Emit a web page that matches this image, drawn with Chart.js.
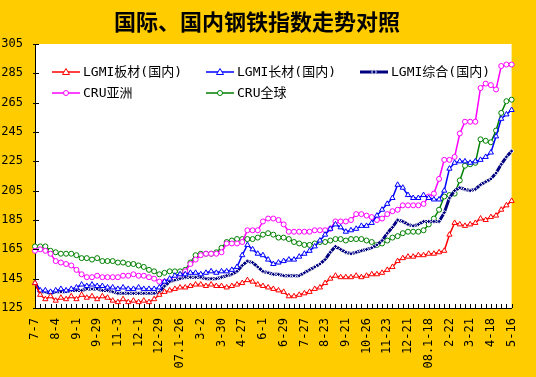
<!DOCTYPE html>
<html>
<head>
<meta charset="utf-8">
<script src="https://cdn.jsdelivr.net/npm/chart.js@4/dist/chart.umd.min.js"></script>
<style>
html, body { margin: 0; padding: 0; background: #FFCC00; }
#wrap { position: relative; width: 536px; height: 377px; }
</style>
</head>
<body>
<div id="wrap"><canvas id="steelChart" width="536" height="377"></canvas></div>
<script>
// weekly points, label shown every 4th week
const categories = [
    '7-7', '', '', '', '8-4', '', '', '', '9-1', '', '', '', '9-29', '', '', '',
    '11-3', '', '', '', '12-1', '', '', '', '12-29', '', '', '', '07.1-26', '', '', '',
    '3-2', '', '', '', '3-30', '', '', '', '4-27', '', '', '', '6-1', '', '', '',
    '6-29', '', '', '', '7-27', '', '', '', '8-23', '', '', '', '9-21', '', '', '',
    '10-26', '', '', '', '11-23', '', '', '', '12-21', '', '', '', '08.1-18', '', '', '',
    '2-22', '', '', '', '3-21', '', '', '', '4-18', '', '', '', '5-16'
];

const seriesNames = ['LGMI板材(国内)', 'LGMI长材(国内)', 'LGMI综合(国内)', 'CRU亚洲', 'CRU全球'];

const plate = [
    142, 134, 131, 133, 130, 132, 131, 133, 131, 134, 132, 133, 131, 133, 132, 130,
    129, 131, 129, 130, 129, 130, 129, 131, 134, 136, 137, 138, 139, 139, 140, 141,
    141, 140, 141, 140, 140, 139, 140, 141, 142, 144, 143, 141, 140, 139, 138, 137,
    136, 133, 133, 134, 135, 136, 138, 139, 142, 145, 147, 146, 146, 146, 147, 146,
    147, 148, 148, 149, 151, 153, 157, 159, 160, 160, 161, 161, 162, 162, 163, 164,
    175, 183, 182, 181, 182, 183, 186, 185, 187, 188, 192, 195, 198
];

const longSteel = [
    142, 137, 137, 136, 137, 138, 137, 138, 139, 141, 140, 141, 140, 140, 139, 139,
    138, 139, 138, 138, 139, 138, 138, 138, 139, 143, 145, 147, 148, 148, 149, 149,
    148, 149, 150, 149, 150, 150, 151, 153, 161, 168, 165, 162, 161, 158, 155, 156,
    157, 158, 158, 160, 162, 164, 167, 171, 175, 179, 182, 180, 177, 178, 179, 181,
    181, 183, 188, 192, 196, 200, 209, 207, 202, 200, 200, 202, 200, 199, 199, 205,
    220, 224, 225, 225, 224, 225, 226, 228, 231, 242, 254, 257, 260
];

const composite = [
    142, 136, 136, 135, 136, 136, 136, 137, 137, 137, 138, 138, 138, 137, 137, 136,
    135, 135, 135, 135, 135, 135, 135, 135, 136, 140, 143, 144, 145, 146, 146, 146,
    146, 145, 145, 145, 146, 147, 148, 150, 154, 157, 156, 153, 150, 149, 148, 148,
    147, 147, 147, 147, 149, 151, 153, 155, 158, 163, 167, 165, 163, 162, 163, 164,
    165, 166, 168, 171, 176, 180, 185, 184, 182, 181, 182, 184, 184, 184, 184, 190,
    200, 205, 207, 206, 205, 206, 209, 211, 213, 217, 223, 228, 232
];

const cruAsia = [
    164, 165, 164, 162, 157, 156, 155, 154, 151, 148, 146, 146, 147, 146, 146, 146,
    146, 147, 147, 148, 147, 147, 146, 145, 143, 143, 144, 145, 146, 150, 155, 158,
    161, 162, 162, 162, 163, 169, 169, 169, 170, 178, 178, 178, 184, 186, 186, 185,
    182, 177, 177, 177, 177, 177, 178, 178, 178, 179, 184, 184, 184, 185, 189, 189,
    188, 187, 185, 186, 189, 191, 192, 195, 195, 195, 195, 196, 201, 203, 213, 226,
    226, 228, 244, 252, 252, 252, 275, 278, 277, 274, 290, 291, 291
];

const cruGlobal = [
    167, 167, 167, 164, 163, 162, 162, 162, 161, 159, 159, 158, 159, 157, 157, 157,
    156, 156, 155, 155, 154, 153, 151, 150, 148, 149, 150, 150, 150, 151, 156, 161,
    162, 162, 162, 163, 166, 170, 171, 172, 172, 172, 172, 173, 175, 176, 175, 173,
    173, 172, 170, 169, 168, 168, 169, 170, 170, 171, 172, 172, 171, 172, 172, 172,
    171, 170, 168, 169, 171, 173, 174, 176, 177, 177, 177, 178, 182, 186, 192, 201,
    202, 203, 212, 222, 223, 224, 240, 239, 238, 246, 258, 266, 267
];

const yMin = 125;
const yMax = 305;
const yStep = 20;

const seriesColors = ['#FF0000', '#0000FF', '#000080', '#FF00FF', '#008000'];
const seriesPoints = ['triangle', 'triangle', 'rectRot', 'circle', 'circle'];
const seriesData = [plate, longSteel, composite, cruAsia, cruGlobal];

const monoFont = "'DejaVu Sans Mono', 'Liberation Mono', monospace";

function makeSet(idx) {
    const c = seriesColors[idx];
    return {
        label: seriesNames[idx],
        data: seriesData[idx],
        borderColor: c,
        backgroundColor: '#FFFFFF',
        pointBorderColor: idx === 2 ? '#FFFFFF' : c,
        pointBackgroundColor: idx === 2 ? '#000080' : '#FFFFFF',
        pointStyle: seriesPoints[idx],
        pointRadius: idx === 2 ? 2.2 : (idx < 2 ? 3 : 2.5),
        pointBorderWidth: 1,
        borderWidth: idx === 2 ? 3 : 1.5,
        tension: 0,
        fill: false
    };
}

// white plot area, inner tick marks, title and legend
const decor = {
    id: 'decor',
    beforeDraw(chart) {
        const ctx = chart.ctx;
        const a = chart.chartArea;
        ctx.save();
        ctx.fillStyle = '#FFCC00';
        ctx.fillRect(0, 0, chart.width, chart.height);
        ctx.fillStyle = '#FFFFFF';
        ctx.fillRect(a.left, a.top, a.right - a.left, a.bottom - a.top);
        ctx.restore();
    },
    afterDraw(chart) {
        const ctx = chart.ctx;
        const a = chart.chartArea;
        const xs = chart.scales.x;
        const ys = chart.scales.y;
        ctx.save();
        ctx.strokeStyle = '#000000';
        ctx.lineWidth = 1;
        ctx.beginPath();
        for (let i = 0; i < categories.length; i++) {
            const px = Math.round(xs.getPixelForValue(i)) + 0.5;
            ctx.moveTo(px, a.bottom);
            ctx.lineTo(px, a.bottom - 4);
        }
        for (let v = yMin; v <= yMax; v += yStep) {
            const py = Math.round(ys.getPixelForValue(v)) + 0.5;
            ctx.moveTo(a.left - 2, py);
            ctx.lineTo(a.left + 4, py);
        }
        ctx.stroke();

        // title
        ctx.fillStyle = '#000000';
        ctx.font = "bold 22px 'Noto Sans CJK SC'";
        ctx.textAlign = 'center';
        ctx.textBaseline = 'middle';
        ctx.fillText('国际、国内钢铁指数走势对照', 257, 22);

        // legend inside plot area
        const spots = [[52, 72], [206, 72], [360, 72], [52, 93], [206, 93]];
        ctx.font = "13px " + monoFont + ", 'Noto Sans CJK SC'";
        ctx.textAlign = 'left';
        chart.data.datasets.forEach((ds, i) => {
            const [lx, ly] = spots[i];
            ctx.strokeStyle = ds.borderColor;
            ctx.lineWidth = ds.borderWidth;
            ctx.beginPath();
            ctx.moveTo(lx, ly);
            ctx.lineTo(lx + 28, ly);
            ctx.stroke();
            const mx = lx + 14;
            ctx.lineWidth = 1;
            ctx.fillStyle = ds.pointBackgroundColor;
            ctx.strokeStyle = ds.pointBorderColor;
            ctx.beginPath();
            if (ds.pointStyle === 'triangle') {
                ctx.moveTo(mx, ly - 3.5);
                ctx.lineTo(mx + 3.5, ly + 2.5);
                ctx.lineTo(mx - 3.5, ly + 2.5);
                ctx.closePath();
            } else if (ds.pointStyle === 'rectRot') {
                ctx.moveTo(mx, ly - 2.5);
                ctx.lineTo(mx + 2.5, ly);
                ctx.lineTo(mx, ly + 2.5);
                ctx.lineTo(mx - 2.5, ly);
                ctx.closePath();
            } else {
                ctx.arc(mx, ly, 2.5, 0, Math.PI * 2);
            }
            ctx.fill();
            ctx.stroke();
            ctx.fillStyle = '#000000';
            ctx.fillText(ds.label, lx + 31, ly + 1);
        });
        ctx.restore();
    }
};

const chart = new Chart(document.getElementById('steelChart'), {
    type: 'line',
    data: {
        labels: categories,
        datasets: [0, 1, 2, 3, 4].map(makeSet)
    },
    options: {
        responsive: false,
        animation: false,
        layout: { padding: { top: 44, right: 8, left: 0, bottom: 0 } },
        plugins: {
            legend: { display: false },
            title: { display: false },
            tooltip: { enabled: false }
        },
        scales: {
            x: {
                afterFit(scale) { scale.height = 69; },
                grid: { display: true, drawOnChartArea: false, drawTicks: false },
                border: { display: true, color: '#000000', width: 1 },
                ticks: {
                    autoSkip: false,
                    minRotation: 90,
                    maxRotation: 90,
                    padding: 10,
                    color: '#000000',
                    font: { family: monoFont, size: 12 }
                }
            },
            y: {
                min: yMin,
                max: yMax,
                afterFit(scale) { scale.width = 35; },
                grid: { display: true, drawOnChartArea: false, drawTicks: false },
                border: { display: true, color: '#000000', width: 1 },
                ticks: {
                    stepSize: yStep,
                    padding: 12,
                    color: '#000000',
                    font: { family: monoFont, size: 12 }
                }
            }
        }
    },
    plugins: [decor]
});
</script>
</body>
</html>
